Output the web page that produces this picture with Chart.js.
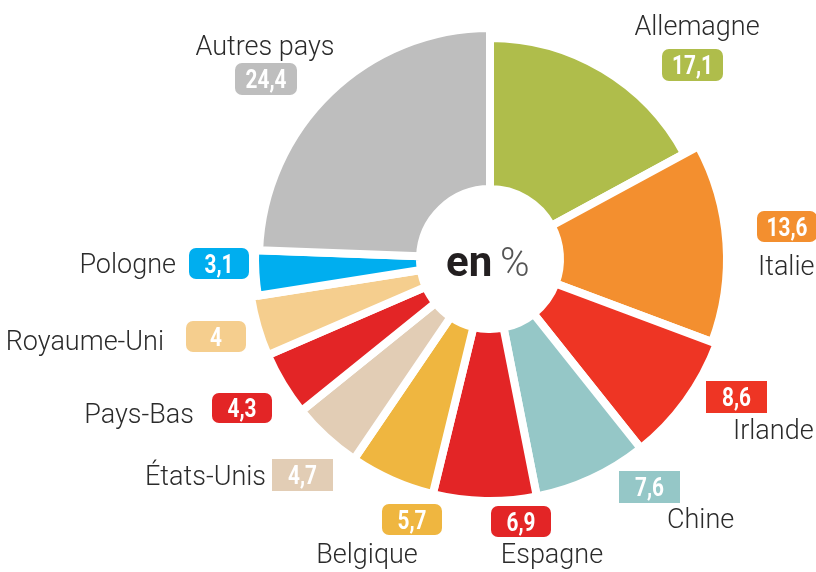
<!DOCTYPE html>
<html>
<head>
<meta charset="utf-8">
<script src="https://cdn.jsdelivr.net/npm/chart.js@4"></script>
<style>
  html, body { margin: 0; padding: 0; background: #fff; }
  #wrap { position: relative; width: 816px; height: 572px; }
</style>
</head>
<body>
<div id="wrap"><canvas id="pieChart" width="816" height="572"></canvas></div>
<script>
// data, clockwise from 12 o'clock
const countries = ['Allemagne', 'Italie', 'Irlande', 'Chine', 'Espagne', 'Belgique',
                   'États-Unis', 'Pays-Bas', 'Royaume-Uni', 'Pologne', 'Autres pays'];
const shares = [17.1, 13.6, 8.6, 7.6, 6.9, 5.7, 4.7, 4.3, 4, 3.1, 24.4];
const colors = ['#afbd4b', '#f38f2f', '#ee3524', '#95c7c7', '#e32526', '#efb640',
                '#e2cdb5', '#e32526', '#f5ce8e', '#00aeef', '#bebebe'];

// slightly shorter wedges in the original artwork
const radiusTrim = [21, 5, 0, 0, 0, 0, 0, 0, 0, 7, 11];

// label placement: name (x, baseline, align) and value badge (x, y, w, h, rounded)
const labelLayout = [
    { nx: 697, ny: 35,  na: 'center', bx: 662, by: 49,  bw: 61, bh: 32, r: true },
    { nx: 758, ny: 275, na: 'left',   bx: 757, by: 211, bw: 60, bh: 31, r: true },
    { nx: 733, ny: 439, na: 'left',   bx: 706, by: 381, bw: 61, bh: 32, r: false },
    { nx: 667, ny: 528, na: 'left',   bx: 619, by: 471, bw: 61, bh: 32, r: false },
    { nx: 552, ny: 563, na: 'center', bx: 491, by: 506, bw: 60, bh: 31, r: true },
    { nx: 367, ny: 563, na: 'center', bx: 382, by: 504, bw: 60, bh: 31, r: true },
    { nx: 266, ny: 485, na: 'right',  bx: 272, by: 459, bw: 61, bh: 32, r: false },
    { nx: 194, ny: 423, na: 'right',  bx: 212, by: 393, bw: 60, bh: 30, r: true },
    { nx: 164, ny: 350, na: 'right',  bx: 186, by: 321, bw: 60, bh: 31, r: true },
    { nx: 176, ny: 273, na: 'right',  bx: 189, by: 248, bw: 60, bh: 31, r: true },
    { nx: 265, ny: 55,  na: 'center', bx: 235, by: 63,  bw: 62, bh: 32, r: true }
];

const fmt = v => String(v).replace('.', ',');

const trimPlugin = {
    id: 'trim',
    beforeDatasetsDraw(chart) {
        const meta = chart.getDatasetMeta(0);
        const base = meta.controller.outerRadius;
        meta.data.forEach((arc, i) => { arc.outerRadius = base - radiusTrim[i]; });
    }
};

const labelPlugin = {
    id: 'labels',
    afterDraw(chart) {
        const ctx = chart.ctx;
        const meta = chart.getDatasetMeta(0);
        const cx = meta.data[0].x, cy = meta.data[0].y;
        ctx.save();

        // centre text
        ctx.textBaseline = 'alphabetic';
        ctx.textAlign = 'left';
        ctx.font = '700 42px Roboto, "DejaVu Sans", sans-serif';
        ctx.fillStyle = '#231f20';
        ctx.fillText('en', cx - 44, cy + 17);
        ctx.font = '300 40px Roboto, "DejaVu Sans", sans-serif';
        ctx.fillStyle = '#555';
        ctx.fillText('%', cx + 10, cy + 17);

        labelLayout.forEach((l, i) => {
            // country name
            ctx.font = '300 27px Roboto, "DejaVu Sans", sans-serif';
            ctx.fillStyle = '#2b2b2b';
            ctx.textAlign = l.na;
            ctx.fillText(countries[i], l.nx, l.ny);

            // value badge
            ctx.fillStyle = colors[i];
            ctx.beginPath();
            if (l.r) ctx.roundRect(l.bx, l.by, l.bw, l.bh, 7);
            else ctx.rect(l.bx, l.by, l.bw, l.bh);
            ctx.fill();

            ctx.save();
            ctx.translate(l.bx + l.bw / 2, l.by + l.bh / 2 + 9);
            ctx.scale(0.8, 1);
            ctx.font = '700 26px Roboto, "DejaVu Sans", sans-serif';
            ctx.fillStyle = '#fff';
            ctx.textAlign = 'center';
            ctx.fillText(fmt(shares[i]), 0, 0);
            ctx.restore();
        });
        ctx.restore();
    }
};

new Chart(document.getElementById('pieChart'), {
    type: 'doughnut',
    data: {
        labels: countries,
        datasets: [{
            data: shares,
            backgroundColor: colors,
            borderColor: '#fff',
            borderWidth: 8,
            hoverOffset: 0
        }]
    },
    options: {
        responsive: false,
        animation: false,
        cutout: 70,
        layout: { padding: { left: 244, right: 80, top: 13, bottom: 67 } },
        plugins: { legend: { display: false }, tooltip: { enabled: false } }
    },
    plugins: [trimPlugin, labelPlugin]
});
</script>
</body>
</html>
